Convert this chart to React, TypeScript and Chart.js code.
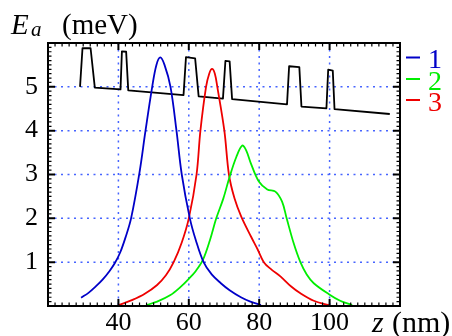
import React, { useEffect, useRef } from "react";
import { Chart, registerables } from "chart.js";

Chart.register(...registerables);

// Potential profile (black)
const potZ = [29.1, 29.8, 32.1, 33.3, 40.6, 41.0, 42.2, 42.8, 58.5, 59.2, 61.8, 62.8, 69.7, 70.4, 71.6, 72.3, 87.9, 88.5, 91.4, 92.0, 99.1, 99.6, 100.9, 101.4, 117.1];
const potE = [5.0, 5.88, 5.88, 4.98, 4.94, 5.81, 5.80, 4.92, 4.81, 5.68, 5.65, 4.78, 4.73, 5.59, 5.58, 4.72, 4.60, 5.47, 5.45, 4.55, 4.51, 5.39, 5.37, 4.49, 4.38];

// Curve 1 (blue)
const z1 = [29.4, 31.5, 33.5, 35.5, 37.5, 39.0, 40.5, 42.0, 43.6, 46.0, 47.7, 49.6, 50.8, 51.9, 53.1, 54.8, 56.5, 58.0, 60.3, 62.0, 64.2, 66.5, 69.1, 71.6, 74.8, 77.5, 80.5];
const e1 = [0.19, 0.3, 0.44, 0.6, 0.8, 0.98, 1.22, 1.56, 2.0, 3.05, 4.0, 5.0, 5.5, 5.67, 5.5, 5.0, 4.0, 3.0, 2.0, 1.5, 1.0, 0.72, 0.52, 0.36, 0.2, 0.1, 0.02];

// Curve 2 (green)
const z2 = [47.9, 51.0, 54.8, 57.6, 60.0, 62.0, 64.0, 66.0, 67.8, 69.8, 71.6, 73.5, 75.2, 76.3, 77.6, 79.9, 82.3, 84.6, 86.5, 87.8, 89.8, 91.7, 93.5, 95.5, 99.8, 103.0, 106.4];
const e2 = [0.02, 0.1, 0.25, 0.43, 0.62, 0.8, 1.05, 1.5, 2.0, 2.45, 2.95, 3.4, 3.66, 3.55, 3.26, 2.84, 2.66, 2.61, 2.38, 2.0, 1.43, 1.0, 0.72, 0.52, 0.27, 0.12, 0.02];

// Curve 3 (red)
const z3 = [40.1, 44.0, 47.5, 51.0, 53.5, 55.7, 58.0, 60.0, 62.2, 63.3, 64.9, 65.8, 66.6, 67.4, 68.1, 70.1, 71.4, 73.0, 74.9, 77.7, 79.5, 81.3, 83.5, 86.1, 89.0, 91.7, 95.5, 99.8];
const e3 = [0.02, 0.14, 0.28, 0.48, 0.7, 1.0, 1.45, 2.0, 3.0, 4.0, 5.0, 5.3, 5.41, 5.3, 5.0, 4.0, 3.0, 2.45, 2.04, 1.58, 1.3, 1.0, 0.83, 0.67, 0.45, 0.29, 0.12, 0.02];

// Axes
const X_MIN = 20;
const X_MAX = 120;
const Y_MIN = 0;
const Y_MAX = 6;
const xGrid = [40, 60, 80, 100];
const yGrid = [1, 2, 3, 4, 5];
const xTickLabels = [40, 60, 80, 100];
const yTickLabels = [1, 2, 3, 4, 5];
const X_MINOR_STEP = 2;
const Y_MINOR_STEP = 0.1;

const legendLabels = ["1", "2", "3"];
const COLORS = ["#0000c8", "#00ee00", "#ee0000"];
const GRID_COLOR = "rgb(70,100,255)";
const SERIF = '"Liberation Serif", "Times New Roman", serif';

const toPts = (xs: number[], ys: number[]) => xs.map((x, i) => ({ x, y: ys[i] }));

const decorPlugin = {
  id: "decor",
  beforeDatasetsDraw(chart: any) {
    const { ctx, chartArea: a, scales } = chart;
    const x = scales.x;
    const y = scales.y;
    ctx.save();
    ctx.strokeStyle = GRID_COLOR;
    ctx.lineWidth = 1.5;
    ctx.setLineDash([2, 4.5]);
    for (const v of xGrid) {
      const px = x.getPixelForValue(v);
      ctx.beginPath();
      ctx.moveTo(px, a.top);
      ctx.lineTo(px, a.bottom);
      ctx.stroke();
    }
    for (const v of yGrid) {
      const py = y.getPixelForValue(v);
      ctx.beginPath();
      ctx.moveTo(a.left, py);
      ctx.lineTo(a.right, py);
      ctx.stroke();
    }
    ctx.restore();
  },
  afterDatasetsDraw(chart: any) {
    const { ctx, chartArea: a, scales } = chart;
    const x = scales.x;
    const y = scales.y;
    ctx.save();
    ctx.strokeStyle = "#000";
    const nx = Math.round((X_MAX - X_MIN) / X_MINOR_STEP);
    for (let i = 1; i < nx; i++) {
      const v = X_MIN + i * X_MINOR_STEP;
      const px = x.getPixelForValue(v);
      const major = xGrid.includes(v);
      const len = major ? 7 : 3.5;
      ctx.lineWidth = major ? 2 : 1.2;
      ctx.beginPath();
      ctx.moveTo(px, a.bottom);
      ctx.lineTo(px, a.bottom - len);
      ctx.moveTo(px, a.top);
      ctx.lineTo(px, a.top + len);
      ctx.stroke();
    }
    const ny = Math.round((Y_MAX - Y_MIN) / Y_MINOR_STEP);
    for (let i = 1; i < ny; i++) {
      const v = Math.round((Y_MIN + i * Y_MINOR_STEP) * 10) / 10;
      const py = y.getPixelForValue(v);
      const major = yGrid.includes(v);
      const len = major ? 7 : 3.5;
      ctx.lineWidth = major ? 2 : 1.2;
      ctx.beginPath();
      ctx.moveTo(a.left, py);
      ctx.lineTo(a.left + len, py);
      ctx.moveTo(a.right, py);
      ctx.lineTo(a.right - len, py);
      ctx.stroke();
    }
    ctx.lineWidth = 2;
    ctx.strokeRect(a.left, a.top, a.right - a.left, a.bottom - a.top);
    ctx.restore();
  },
  afterDraw(chart: any) {
    const { ctx } = chart;
    ctx.save();
    ctx.fillStyle = "#000";
    ctx.textBaseline = "alphabetic";
    ctx.textAlign = "left";
    ctx.font = `italic 29px ${SERIF}`;
    ctx.fillText("E", 11, 34);
    ctx.font = `italic 21px ${SERIF}`;
    ctx.fillText("a", 31, 35.5);
    ctx.font = `29px ${SERIF}`;
    ctx.fillText("(meV)", 62, 34);
    ctx.font = `italic 30px ${SERIF}`;
    ctx.fillText("z", 372, 332);
    ctx.font = `30px ${SERIF}`;
    ctx.fillText("(nm)", 392, 332);
    const dashY = [57.5, 79, 100];
    const textY = [68, 90, 111];
    ctx.lineWidth = 2;
    legendLabels.forEach((lab, i) => {
      ctx.strokeStyle = COLORS[i];
      ctx.beginPath();
      ctx.moveTo(406, dashY[i]);
      ctx.lineTo(420, dashY[i]);
      ctx.stroke();
      ctx.fillStyle = COLORS[i];
      ctx.font = `28px ${SERIF}`;
      ctx.fillText(lab, 428, textY[i]);
    });
    ctx.restore();
  },
};

export default function App() {
  const ref = useRef<HTMLCanvasElement | null>(null);
  useEffect(() => {
    if (!ref.current) return;
    const line = (data: any, color: string, smooth: boolean) => ({
      data,
      borderColor: color,
      backgroundColor: color,
      borderWidth: 1.8,
      pointRadius: 0,
      fill: false,
      tension: smooth ? 0.35 : 0,
      borderJoinStyle: "round",
    });
    const chart = new Chart(ref.current, {
      type: "line",
      data: {
        datasets: [
          line(toPts(z1, e1), COLORS[0], true),
          line(toPts(z2, e2), COLORS[1], true),
          line(toPts(z3, e3), COLORS[2], true),
          line(toPts(potZ, potE), "#000", false),
        ] as any,
      },
      options: {
        animation: false,
        responsive: false,
        devicePixelRatio: 1,
        layout: { padding: { top: 43, right: 52, left: 0, bottom: 0 } },
        plugins: { legend: { display: false }, tooltip: { enabled: false }, title: { display: false } },
        scales: {
          x: {
            type: "linear",
            min: X_MIN,
            max: X_MAX,
            grid: { display: false, drawTicks: false },
            border: { display: false },
            afterFit: (s: any) => {
              s.height = 30;
            },
            afterBuildTicks: (s: any) => {
              s.ticks = xTickLabels.map((v) => ({ value: v }));
            },
            ticks: {
              color: "#000",
              font: { family: SERIF, size: 26 },
              padding: 2,
              maxRotation: 0,
              autoSkip: false,
            },
          },
          y: {
            type: "linear",
            min: Y_MIN,
            max: Y_MAX,
            grid: { display: false, drawTicks: false },
            border: { display: false },
            afterFit: (s: any) => {
              s.width = 48;
            },
            afterBuildTicks: (s: any) => {
              s.ticks = yTickLabels.map((v) => ({ value: v }));
            },
            ticks: {
              color: "#000",
              font: { family: SERIF, size: 26 },
              padding: 10,
              autoSkip: false,
            },
          },
        },
      } as any,
      plugins: [decorPlugin],
    });
    return () => chart.destroy();
  }, []);
  return (
    <div style={{ position: "absolute", left: 0, top: 0, width: 452, height: 336, background: "#fff" }}>
      <canvas ref={ref} width={452} height={336} style={{ display: "block" }} />
    </div>
  );
}
